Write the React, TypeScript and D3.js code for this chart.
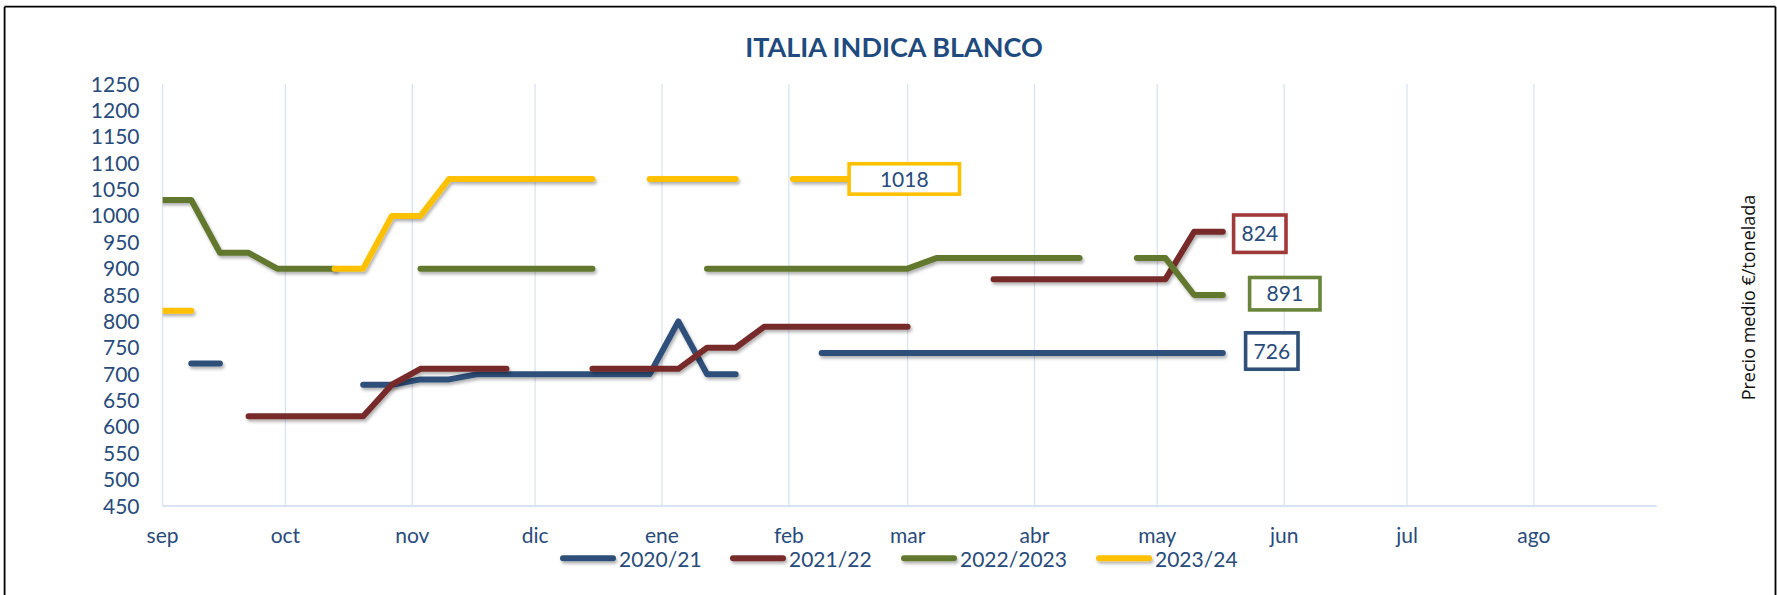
import React from 'react';
import * as d3 from 'd3';

// ---------- DATA ----------
const weeks = [
  '2023-09-01', '2023-09-08', '2023-09-15', '2023-09-22', '2023-09-29',
  '2023-10-06', '2023-10-13', '2023-10-20', '2023-10-27',
  '2023-11-03', '2023-11-10', '2023-11-17', '2023-11-24',
  '2023-12-01', '2023-12-08', '2023-12-15', '2023-12-22', '2023-12-29',
  '2024-01-05', '2024-01-12', '2024-01-19', '2024-01-26',
  '2024-02-02', '2024-02-09', '2024-02-16', '2024-02-23',
  '2024-03-01', '2024-03-08', '2024-03-15', '2024-03-22', '2024-03-29',
  '2024-04-05', '2024-04-12', '2024-04-19', '2024-04-26',
  '2024-05-03', '2024-05-10', '2024-05-17',
];

const monthStarts = [
  '2023-09-01', '2023-10-01', '2023-11-01', '2023-12-01', '2024-01-01', '2024-02-01',
  '2024-03-01', '2024-04-01', '2024-05-01', '2024-06-01', '2024-07-01', '2024-08-01',
];
const monthLabels = ['sep', 'oct', 'nov', 'dic', 'ene', 'feb', 'mar', 'abr', 'may', 'jun', 'jul', 'ago'];

const yTicks = [450, 500, 550, 600, 650, 700, 750, 800, 850, 900, 950, 1000, 1050, 1100, 1150, 1200, 1250];

const seriesNames = ['2020/21', '2021/22', '2022/2023', '2023/24'];

const s2020 = [null, 720, 720, null, null, null, null, 680, 680, 690, 690, 700, 700, 700, 700, 700, 700, 700, 800, 700, 700, null, null,
  740, 740, 740, 740, 740, 740, 740, 740, 740, 740, 740, 740, 740, 740, 740];
const s2021 = [null, null, null, 620, 620, 620, 620, 620, 680, 710, 710, 710, 710, null, null, 710, 710, 710, 710, 750, 750,
  790, 790, 790, 790, 790, 790, null, null, 880, 880, 880, 880, 880, 880, 880, 970, 970];
const s2022 = [1030, 1030, 930, 930, 900, 900, 900, null, null, 900, 900, 900, 900, 900, 900, 900, null, null, null,
  900, 900, 900, 900, 900, 900, 900, 900, 920, 920, 920, 920, 920, 920, null, 920, 920, 850, 850];
const s2023 = [820, 820, null, null, null, null, 900, 900, 1000, 1000, 1070, 1070, 1070, 1070, 1070, 1070, null,
  1070, 1070, 1070, 1070, null, 1070, 1070, 1070, null, null, null, null, null, null, null, null, null, null, null, null, null];

const endLabels = [726, 824, 891, 1018];

// ---------- STYLE / LAYOUT ----------
const W = 1777;
const H = 595;
const lineColors = ['#2E5079', '#772B2B', '#62782F', '#FFC000'];
const boxColors = ['#2E5079', '#A03A3A', '#6A843A', '#FFC000'];
const textColor = '#284B7B';
const gridColor = '#D8E3F3';
const FONT = 'Lato, "Open Sans", sans-serif';

const plot = { left: 162.6, right: 1656.7, top: 84, bottom: 506 };
// label box geometry relative to the series' last point
const labelBoxes = [
  { dx: 49, dy: -2, w: 56, h: 40 },
  { dx: 37, dy: 2, w: 56, h: 41 },
  { dx: 62, dy: -1.3, w: 74, h: 36 },
  { dx: 54, dy: 0, w: 114, h: 34 },
];
const legendX = [560, 730, 901, 1096];

const parse = d3.utcParse('%Y-%m-%d');

export default function App() {
  const x = d3.scaleUtc()
    .domain([parse('2023-09-01') as Date, parse('2024-08-31') as Date])
    .range([plot.left, plot.right]);
  const y = d3.scaleLinear().domain([450, 1250]).range([plot.bottom, plot.top]);

  const dates = weeks.map((d) => parse(d) as Date);
  const all = [s2020, s2021, s2022, s2023];

  const line = d3.line<{ d: Date; v: number | null }>()
    .defined((p) => p.v !== null)
    .x((p) => x(p.d))
    .y((p) => y(p.v as number));

  const series = all.map((vals) => vals.map((v, i) => ({ d: dates[i], v })));

  return (
    <div style={{ position: 'absolute', left: 0, top: 0 }}>
      <svg width={W} height={H} viewBox={`0 0 ${W} ${H}`} style={{ display: 'block', background: '#fff' }}>
        <defs>
          <filter id="sh" filterUnits="userSpaceOnUse" x={0} y={0} width={W} height={H}>
            <feDropShadow dx={1.5} dy={2.5} stdDeviation={1.6} floodColor="#000" floodOpacity={0.3} />
          </filter>
          <clipPath id="plotClip">
            <rect x={plot.left} y={0} width={W - plot.left} height={H} />
          </clipPath>
        </defs>

        {/* frame */}
        <line x1={4.6} y1={6.7} x2={4.6} y2={H} stroke="#000" strokeWidth={1.8} />
        <line x1={4.6} y1={6.7} x2={1775.5} y2={6.7} stroke="#000" strokeWidth={1.8} />
        <line x1={1775.5} y1={6.7} x2={1775.5} y2={H} stroke="#000" strokeWidth={1.8} />

        {/* title */}
        <text x={894} y={56.7} textAnchor="middle" fontFamily={FONT} fontWeight={700} fontSize={27} fill="#1F4A7E">
          ITALIA INDICA BLANCO
        </text>

        {/* vertical gridlines */}
        {monthStarts.map((m) => {
          const xx = x(parse(m) as Date);
          return <line key={m} x1={xx} x2={xx} y1={plot.top} y2={plot.bottom} stroke={gridColor} strokeWidth={1.3} />;
        })}
        {/* x axis line */}
        <line x1={plot.left} x2={plot.right} y1={plot.bottom} y2={plot.bottom} stroke={gridColor} strokeWidth={2} />

        {/* y tick labels */}
        {yTicks.map((t) => (
          <text key={t} x={139.5} y={y(t)} dy="0.36em" textAnchor="end" fontFamily={FONT} fontSize={21} fill={textColor}>
            {t}
          </text>
        ))}

        {/* month labels */}
        {monthStarts.map((m, i) => (
          <text key={m} x={x(parse(m) as Date)} y={543} textAnchor="middle" fontFamily={FONT} fontSize={21} fill={textColor}>
            {monthLabels[i]}
          </text>
        ))}

        {/* series lines */}
        <g clipPath="url(#plotClip)">
          {series.map((s, i) => (
            <path
              key={seriesNames[i]}
              d={line(s) || ''}
              fill="none"
              stroke={lineColors[i]}
              strokeWidth={6}
              strokeLinecap="round"
              strokeLinejoin="round"
              filter="url(#sh)"
            />
          ))}
        </g>

        {/* end labels */}
        {series.map((s, i) => {
          const pts = s.filter((p) => p.v !== null);
          const last = pts[pts.length - 1];
          const b = labelBoxes[i];
          const cx = x(last.d) + b.dx;
          const cy = y(last.v as number) + b.dy;
          const sw = 3.6;
          return (
            <g key={'lab' + i}>
              <rect
                x={cx - b.w / 2 + sw / 2}
                y={cy - b.h / 2 + sw / 2}
                width={b.w - sw}
                height={b.h - sw}
                fill="#fff"
                stroke={boxColors[i]}
                strokeWidth={sw}
              />
              <text x={cx} y={cy} dy="0.36em" textAnchor="middle" fontFamily={FONT} fontSize={21} fill={textColor}>
                {endLabels[i]}
              </text>
            </g>
          );
        })}

        {/* legend */}
        {seriesNames.map((n, i) => (
          <g key={'leg' + n}>
            <line x1={legendX[i] + 3} x2={legendX[i] + 53} y1={558.3} y2={558.3} stroke={lineColors[i]} strokeWidth={6} strokeLinecap="round" filter="url(#sh)" />
            <text x={legendX[i] + 59} y={566.7} fontFamily={FONT} fontSize={21} fill={textColor}>
              {n}
            </text>
          </g>
        ))}

        {/* right axis title */}
        <text
          transform="translate(1755,297.5) rotate(-90)"
          textAnchor="middle"
          fontFamily='"Open Sans", sans-serif'
          fontSize={18}
          fill="#111"
        >
          Precio medio €/tonelada
        </text>
      </svg>
    </div>
  );
}
